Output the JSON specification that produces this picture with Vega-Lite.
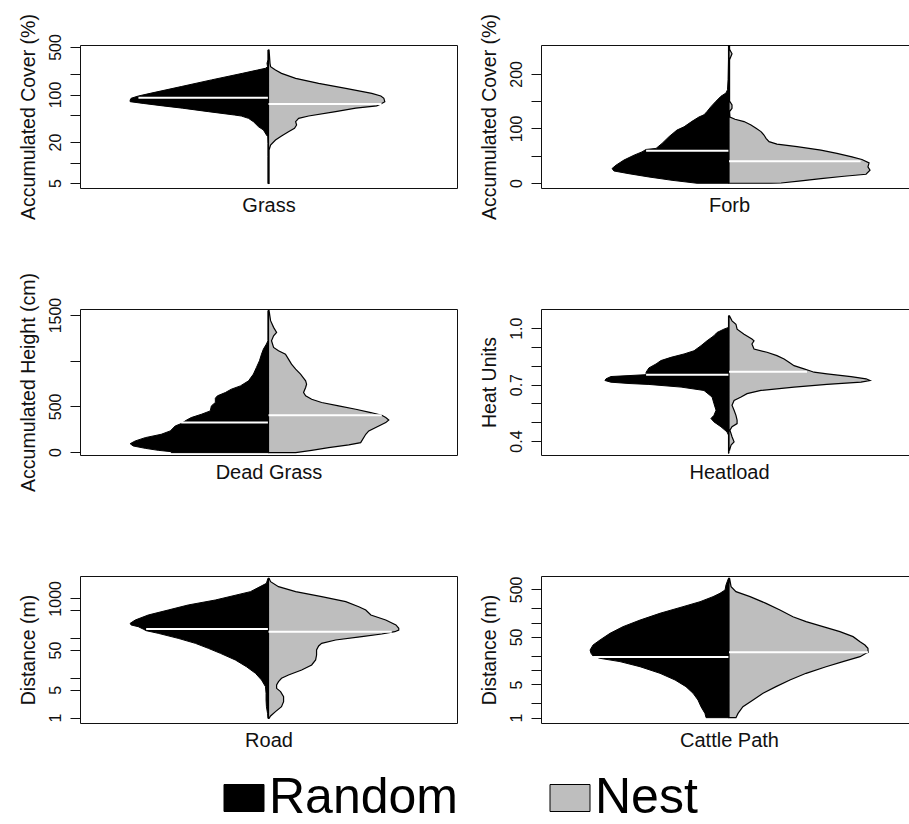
{
"$schema": "https://vega.github.io/schema/vega-lite/v6.json",
"padding": {"left": 17, "top": 13, "right": 0, "bottom": 0},
"background": "white",
"columns": 2,
"spacing": {"row": 121, "column": 84},
"bounds": "flush",
"datasets": {
"grass": [
{"group":"Random","value":452,"density":0.003},{"group":"Random","value":322,"density":0.003},{"group":"Random","value":288,"density":0.008},{"group":"Random","value":257,"density":0.005},{"group":"Random","value":243,"density":0.016},{"group":"Random","value":229,"density":0.059},{"group":"Random","value":205,"density":0.138},{"group":"Random","value":164,"density":0.303},{"group":"Random","value":131,"density":0.463},{"group":"Random","value":104,"density":0.628},{"group":"Random","value":95,"density":0.691},{"group":"Random","value":88,"density":0.729},{"group":"Random","value":83,"density":0.734},{"group":"Random","value":78.5,"density":0.734},{"group":"Random","value":74,"density":0.665},{"group":"Random","value":68,"density":0.559},{"group":"Random","value":63,"density":0.457},{"group":"Random","value":56,"density":0.319},{"group":"Random","value":50,"density":0.181},{"group":"Random","value":48.3,"density":0.144},{"group":"Random","value":44.6,"density":0.106},{"group":"Random","value":39.9,"density":0.08},{"group":"Random","value":33.6,"density":0.053},{"group":"Random","value":30.1,"density":0.027},{"group":"Random","value":25.4,"density":0.011},{"group":"Random","value":24,"density":0.004},{"group":"Random","value":19.1,"density":0.003},{"group":"Random","value":12.2,"density":0.003},{"group":"Random","value":4.9,"density":0.003},
{"group":"Nest","value":452,"density":0.003},{"group":"Nest","value":288,"density":0.008},{"group":"Nest","value":257,"density":0.011},{"group":"Nest","value":229,"density":0.037},{"group":"Nest","value":205,"density":0.069},{"group":"Nest","value":173,"density":0.144},{"group":"Nest","value":146,"density":0.266},{"group":"Nest","value":123,"density":0.41},{"group":"Nest","value":104,"density":0.548},{"group":"Nest","value":95,"density":0.596},{"group":"Nest","value":88,"density":0.612},{"group":"Nest","value":78.5,"density":0.617},{"group":"Nest","value":72.6,"density":0.596},{"group":"Nest","value":68,"density":0.574},{"group":"Nest","value":63,"density":0.463},{"group":"Nest","value":56,"density":0.356},{"group":"Nest","value":48.3,"density":0.213},{"group":"Nest","value":44.6,"density":0.16},{"group":"Nest","value":39.9,"density":0.144},{"group":"Nest","value":35.6,"density":0.149},{"group":"Nest","value":31.8,"density":0.138},{"group":"Nest","value":28.4,"density":0.106},{"group":"Nest","value":24.5,"density":0.069},{"group":"Nest","value":21.4,"density":0.037},{"group":"Nest","value":18.1,"density":0.011},{"group":"Nest","value":15.3,"density":0.003},{"group":"Nest","value":12.2,"density":0.003},{"group":"Nest","value":4.95,"density":0.003}
],
"forb": [
{"group":"Random","value":252,"density":0.003},{"group":"Random","value":226,"density":0.003},{"group":"Random","value":190,"density":0.005},{"group":"Random","value":171,"density":0.008},{"group":"Random","value":165,"density":0.016},{"group":"Random","value":159,"density":0.043},{"group":"Random","value":150,"density":0.069},{"group":"Random","value":140,"density":0.096},{"group":"Random","value":131,"density":0.117},{"group":"Random","value":125,"density":0.133},{"group":"Random","value":121,"density":0.16},{"group":"Random","value":113,"density":0.197},{"group":"Random","value":103,"density":0.239},{"group":"Random","value":97,"density":0.277},{"group":"Random","value":85,"density":0.319},{"group":"Random","value":72.6,"density":0.356},{"group":"Random","value":63.4,"density":0.388},{"group":"Random","value":61.5,"density":0.441},{"group":"Random","value":57,"density":0.463},{"group":"Random","value":51,"density":0.505},{"group":"Random","value":42,"density":0.559},{"group":"Random","value":32.6,"density":0.601},{"group":"Random","value":26.5,"density":0.622},{"group":"Random","value":22,"density":0.612},{"group":"Random","value":17,"density":0.532},{"group":"Random","value":11,"density":0.426},{"group":"Random","value":4.9,"density":0.303},{"group":"Random","value":-0.5,"density":0.17},
{"group":"Nest","value":252,"density":0.003},{"group":"Nest","value":245,"density":0.003},{"group":"Nest","value":237,"density":0.016},{"group":"Nest","value":226,"density":0.003},{"group":"Nest","value":150,"density":0.003},{"group":"Nest","value":143,"density":0.016},{"group":"Nest","value":137,"density":0.016},{"group":"Nest","value":131,"density":0.003},{"group":"Nest","value":121,"density":0.005},{"group":"Nest","value":116.9,"density":0.032},{"group":"Nest","value":112.6,"density":0.08},{"group":"Nest","value":106.5,"density":0.117},{"group":"Nest","value":100.3,"density":0.144},{"group":"Nest","value":94.2,"density":0.17},{"group":"Nest","value":88,"density":0.186},{"group":"Nest","value":81.8,"density":0.197},{"group":"Nest","value":75.7,"density":0.213},{"group":"Nest","value":71.4,"density":0.255},{"group":"Nest","value":66.5,"density":0.362},{"group":"Nest","value":60.3,"density":0.489},{"group":"Nest","value":54.2,"density":0.574},{"group":"Nest","value":48,"density":0.654},{"group":"Nest","value":43.1,"density":0.707},{"group":"Nest","value":36.9,"density":0.745},{"group":"Nest","value":29.5,"density":0.739},{"group":"Nest","value":23.4,"density":0.75},{"group":"Nest","value":16,"density":0.729},{"group":"Nest","value":12.3,"density":0.612},{"group":"Nest","value":8,"density":0.489},{"group":"Nest","value":3.7,"density":0.383},{"group":"Nest","value":0,"density":0.277},{"group":"Nest","value":-0.5,"density":0.223}
],
"dead": [
{"group":"Random","value":1548,"density":0.003},{"group":"Random","value":1218,"density":0.003},{"group":"Random","value":1182,"density":0.011},{"group":"Random","value":1127,"density":0.027},{"group":"Random","value":1072,"density":0.037},{"group":"Random","value":999,"density":0.048},{"group":"Random","value":926,"density":0.064},{"group":"Random","value":853,"density":0.08},{"group":"Random","value":779,"density":0.106},{"group":"Random","value":724,"density":0.149},{"group":"Random","value":688,"density":0.197},{"group":"Random","value":651,"density":0.229},{"group":"Random","value":615,"density":0.271},{"group":"Random","value":589,"density":0.282},{"group":"Random","value":542,"density":0.282},{"group":"Random","value":505,"density":0.303},{"group":"Random","value":450,"density":0.309},{"group":"Random","value":413,"density":0.356},{"group":"Random","value":377,"density":0.41},{"group":"Random","value":348,"density":0.436},{"group":"Random","value":311,"density":0.463},{"group":"Random","value":285,"density":0.495},{"group":"Random","value":231,"density":0.521},{"group":"Random","value":194,"density":0.569},{"group":"Random","value":157,"density":0.654},{"group":"Random","value":121,"density":0.707},{"group":"Random","value":91,"density":0.734},{"group":"Random","value":66,"density":0.718},{"group":"Random","value":40,"density":0.654},{"group":"Random","value":18,"density":0.585},{"group":"Random","value":3.7,"density":0.516},{"group":"Random","value":-7,"density":0.516},
{"group":"Nest","value":1548,"density":0.003},{"group":"Nest","value":1438,"density":0.011},{"group":"Nest","value":1365,"density":0.027},{"group":"Nest","value":1310,"density":0.043},{"group":"Nest","value":1273,"density":0.027},{"group":"Nest","value":1218,"density":0.016},{"group":"Nest","value":1145,"density":0.027},{"group":"Nest","value":1108,"density":0.053},{"group":"Nest","value":1072,"density":0.09},{"group":"Nest","value":1017,"density":0.106},{"group":"Nest","value":962,"density":0.122},{"group":"Nest","value":907,"density":0.144},{"group":"Nest","value":853,"density":0.17},{"group":"Nest","value":809,"density":0.186},{"group":"Nest","value":779,"density":0.197},{"group":"Nest","value":743,"density":0.202},{"group":"Nest","value":706,"density":0.197},{"group":"Nest","value":651,"density":0.186},{"group":"Nest","value":615,"density":0.197},{"group":"Nest","value":578,"density":0.229},{"group":"Nest","value":542,"density":0.282},{"group":"Nest","value":505,"density":0.372},{"group":"Nest","value":468,"density":0.463},{"group":"Nest","value":432,"density":0.543},{"group":"Nest","value":402,"density":0.601},{"group":"Nest","value":377,"density":0.622},{"group":"Nest","value":351,"density":0.638},{"group":"Nest","value":322,"density":0.622},{"group":"Nest","value":285,"density":0.585},{"group":"Nest","value":231,"density":0.532},{"group":"Nest","value":194,"density":0.516},{"group":"Nest","value":102,"density":0.489},{"group":"Nest","value":77,"density":0.426},{"group":"Nest","value":48,"density":0.319},{"group":"Nest","value":18,"density":0.229},{"group":"Nest","value":-7,"density":0.144}
],
"heat": [
{"group":"Random","value":1.065,"density":0.003},{"group":"Random","value":1.004,"density":0.003},{"group":"Random","value":0.995,"density":0.027},{"group":"Random","value":0.977,"density":0.064},{"group":"Random","value":0.96,"density":0.08},{"group":"Random","value":0.933,"density":0.117},{"group":"Random","value":0.907,"density":0.149},{"group":"Random","value":0.88,"density":0.186},{"group":"Random","value":0.863,"density":0.239},{"group":"Random","value":0.845,"density":0.309},{"group":"Random","value":0.828,"density":0.362},{"group":"Random","value":0.81,"density":0.388},{"group":"Random","value":0.789,"density":0.426},{"group":"Random","value":0.766,"density":0.441},{"group":"Random","value":0.753,"density":0.441},{"group":"Random","value":0.748,"density":0.532},{"group":"Random","value":0.743,"density":0.628},{"group":"Random","value":0.731,"density":0.654},{"group":"Random","value":0.722,"density":0.66},{"group":"Random","value":0.713,"density":0.628},{"group":"Random","value":0.706,"density":0.532},{"group":"Random","value":0.701,"density":0.426},{"group":"Random","value":0.687,"density":0.255},{"group":"Random","value":0.669,"density":0.133},{"group":"Random","value":0.634,"density":0.09},{"group":"Random","value":0.599,"density":0.08},{"group":"Random","value":0.564,"density":0.069},{"group":"Random","value":0.537,"density":0.08},{"group":"Random","value":0.52,"density":0.096},{"group":"Random","value":0.502,"density":0.08},{"group":"Random","value":0.476,"density":0.043},{"group":"Random","value":0.449,"density":0.011},{"group":"Random","value":0.432,"density":0.003},{"group":"Random","value":0.335,"density":0.003},
{"group":"Nest","value":1.065,"density":0.003},{"group":"Nest","value":1.039,"density":0.016},{"group":"Nest","value":1.021,"density":0.037},{"group":"Nest","value":0.995,"density":0.043},{"group":"Nest","value":0.968,"density":0.08},{"group":"Nest","value":0.942,"density":0.122},{"group":"Nest","value":0.933,"density":0.133},{"group":"Nest","value":0.916,"density":0.122},{"group":"Nest","value":0.889,"density":0.133},{"group":"Nest","value":0.872,"density":0.202},{"group":"Nest","value":0.854,"density":0.255},{"group":"Nest","value":0.836,"density":0.293},{"group":"Nest","value":0.819,"density":0.319},{"group":"Nest","value":0.801,"density":0.346},{"group":"Nest","value":0.784,"density":0.399},{"group":"Nest","value":0.775,"density":0.426},{"group":"Nest","value":0.766,"density":0.452},{"group":"Nest","value":0.757,"density":0.521},{"group":"Nest","value":0.743,"density":0.649},{"group":"Nest","value":0.731,"density":0.729},{"group":"Nest","value":0.722,"density":0.75},{"group":"Nest","value":0.713,"density":0.702},{"group":"Nest","value":0.701,"density":0.521},{"group":"Nest","value":0.687,"density":0.346},{"group":"Nest","value":0.669,"density":0.17},{"group":"Nest","value":0.652,"density":0.096},{"group":"Nest","value":0.634,"density":0.064},{"group":"Nest","value":0.616,"density":0.027},{"group":"Nest","value":0.59,"density":0.016},{"group":"Nest","value":0.564,"density":0.027},{"group":"Nest","value":0.537,"density":0.037},{"group":"Nest","value":0.511,"density":0.043},{"group":"Nest","value":0.493,"density":0.043},{"group":"Nest","value":0.476,"density":0.016},{"group":"Nest","value":0.458,"density":0.005},{"group":"Nest","value":0.423,"density":0.016},{"group":"Nest","value":0.396,"density":0.027},{"group":"Nest","value":0.379,"density":0.011},{"group":"Nest","value":0.352,"density":0.003}
],
"road": [
{"group":"Random","value":3184,"density":0.003},{"group":"Random","value":2384,"density":0.011},{"group":"Random","value":1472,"density":0.096},{"group":"Random","value":908,"density":0.282},{"group":"Random","value":681,"density":0.426},{"group":"Random","value":509,"density":0.532},{"group":"Random","value":381,"density":0.638},{"group":"Random","value":285,"density":0.707},{"group":"Random","value":235,"density":0.734},{"group":"Random","value":214,"density":0.729},{"group":"Random","value":194,"density":0.691},{"group":"Random","value":169,"density":0.665},{"group":"Random","value":154,"density":0.649},{"group":"Random","value":132,"density":0.585},{"group":"Random","value":98.6,"density":0.479},{"group":"Random","value":73.9,"density":0.388},{"group":"Random","value":55.3,"density":0.319},{"group":"Random","value":41.4,"density":0.255},{"group":"Random","value":28.2,"density":0.176},{"group":"Random","value":19.1,"density":0.117},{"group":"Random","value":13,"density":0.069},{"group":"Random","value":8.85,"density":0.037},{"group":"Random","value":6.02,"density":0.016},{"group":"Random","value":4.09,"density":0.013},{"group":"Random","value":2.78,"density":0.013},{"group":"Random","value":1.89,"density":0.011},{"group":"Random","value":1.28,"density":0.005},{"group":"Random","value":0.96,"density":0.003},
{"group":"Nest","value":3184,"density":0.003},{"group":"Nest","value":2626,"density":0.011},{"group":"Nest","value":1963,"density":0.053},{"group":"Nest","value":1472,"density":0.144},{"group":"Nest","value":1102,"density":0.282},{"group":"Nest","value":826,"density":0.41},{"group":"Nest","value":617,"density":0.479},{"group":"Nest","value":509,"density":0.516},{"group":"Nest","value":381,"density":0.543},{"group":"Nest","value":285,"density":0.622},{"group":"Nest","value":214,"density":0.676},{"group":"Nest","value":177,"density":0.691},{"group":"Nest","value":160,"density":0.691},{"group":"Nest","value":145,"density":0.67},{"group":"Nest","value":127,"density":0.601},{"group":"Nest","value":109,"density":0.495},{"group":"Nest","value":89.7,"density":0.356},{"group":"Nest","value":73.9,"density":0.282},{"group":"Nest","value":63.4,"density":0.266},{"group":"Nest","value":50.2,"density":0.255},{"group":"Nest","value":37.6,"density":0.255},{"group":"Nest","value":28.2,"density":0.25},{"group":"Nest","value":21.1,"density":0.229},{"group":"Nest","value":15.8,"density":0.176},{"group":"Nest","value":11.8,"density":0.106},{"group":"Nest","value":9.75,"density":0.069},{"group":"Nest","value":8.04,"density":0.053},{"group":"Nest","value":6.62,"density":0.043},{"group":"Nest","value":5.46,"density":0.043},{"group":"Nest","value":4.51,"density":0.064},{"group":"Nest","value":3.37,"density":0.08},{"group":"Nest","value":2.52,"density":0.08},{"group":"Nest","value":1.89,"density":0.069},{"group":"Nest","value":1.42,"density":0.037},{"group":"Nest","value":1.1,"density":0.011},{"group":"Nest","value":0.96,"density":0.003}
],
"cattle": [
{"group":"Random","value":853,"density":0.003},{"group":"Random","value":618,"density":0.016},{"group":"Random","value":485,"density":0.021},{"group":"Random","value":413,"density":0.048},{"group":"Random","value":351,"density":0.085},{"group":"Random","value":275,"density":0.154},{"group":"Random","value":216,"density":0.245},{"group":"Random","value":157,"density":0.367},{"group":"Random","value":113,"density":0.473},{"group":"Random","value":82.1,"density":0.564},{"group":"Random","value":59.4,"density":0.633},{"group":"Random","value":43.1,"density":0.686},{"group":"Random","value":33.8,"density":0.723},{"group":"Random","value":26.5,"density":0.739},{"group":"Random","value":22.6,"density":0.734},{"group":"Random","value":19.8,"density":0.723},{"group":"Random","value":17.7,"density":0.686},{"group":"Random","value":15.1,"density":0.58},{"group":"Random","value":11.8,"density":0.473},{"group":"Random","value":8.57,"density":0.367},{"group":"Random","value":6.2,"density":0.287},{"group":"Random","value":4.49,"density":0.229},{"group":"Random","value":3.25,"density":0.191},{"group":"Random","value":2.35,"density":0.165},{"group":"Random","value":1.7,"density":0.149},{"group":"Random","value":1.23,"density":0.128},{"group":"Random","value":1,"density":0.122},
{"group":"Nest","value":853,"density":0.003},{"group":"Nest","value":570,"density":0.011},{"group":"Nest","value":448,"density":0.037},{"group":"Nest","value":351,"density":0.112},{"group":"Nest","value":254,"density":0.197},{"group":"Nest","value":184,"density":0.271},{"group":"Nest","value":133,"density":0.34},{"group":"Nest","value":105,"density":0.41},{"group":"Nest","value":82.1,"density":0.5},{"group":"Nest","value":64.4,"density":0.59},{"group":"Nest","value":50.6,"density":0.66},{"group":"Nest","value":39.7,"density":0.697},{"group":"Nest","value":33.8,"density":0.723},{"group":"Nest","value":28.8,"density":0.739},{"group":"Nest","value":23.7,"density":0.74},{"group":"Nest","value":22.6,"density":0.729},{"group":"Nest","value":19.2,"density":0.697},{"group":"Nest","value":15.1,"density":0.606},{"group":"Nest","value":11.8,"density":0.516},{"group":"Nest","value":8.57,"density":0.41},{"group":"Nest","value":6.2,"density":0.324},{"group":"Nest","value":4.49,"density":0.25},{"group":"Nest","value":3.25,"density":0.181},{"group":"Nest","value":2.35,"density":0.128},{"group":"Nest","value":1.7,"density":0.074},{"group":"Nest","value":1.23,"density":0.048},{"group":"Nest","value":1,"density":0.037}
],
"medians": [
{"panel":"Grass","group":"Random","value":89.9,"density":0.69},{"panel":"Grass","group":"Nest","value":72.6,"density":0.6},
{"panel":"Forb","group":"Random","value":59,"density":0.441},{"panel":"Forb","group":"Nest","value":40,"density":0.7},
{"panel":"Dead Grass","group":"Random","value":322,"density":0.463},{"panel":"Dead Grass","group":"Nest","value":402,"density":0.601},
{"panel":"Heatload","group":"Random","value":0.752,"density":0.441},{"panel":"Heatload","group":"Nest","value":0.769,"density":0.415},
{"panel":"Road","group":"Random","value":169,"density":0.649},{"panel":"Road","group":"Nest","value":145,"density":0.654},
{"panel":"Cattle Path","group":"Random","value":18.9,"density":0.723},{"panel":"Cattle Path","group":"Nest","value":23.7,"density":0.739}
]
},
"concat": [
{
"width": 377, "height": 143,
"encoding": {"y": {"field": "value", "type": "quantitative", "scale": {"type": "log", "domain": [4.22, 535], "nice": false}, "axis": {"title": "Accumulated Cover (%)", "values": [5,10,20,50,100,200,500], "labelExpr": "indexof([5,20,100,500], datum.value) >= 0 ? format(datum.value, 'd') : ''", "titleY": 71.5}}},
"layer": [
{"data": {"name": "grass"}, "transform": [{"filter": "datum.group == 'Random'"}], "mark": {"type": "area", "orient": "horizontal", "stroke": "#000", "strokeWidth": 1, "opacity": 1}, "encoding": {"x": {"field": "density", "type": "quantitative", "scale": {"domain": [-1, 1], "reverse": true, "nice": false, "zero": false}, "axis": {"title": "Grass", "titleX": 188.5}}, "x2": {"datum": 0}, "color": {"field": "group", "type": "nominal", "title": null, "scale": {"domain": ["Random", "Nest"], "range": ["#000000", "#bebebe"]}, "legend": {"title": null, "orient": "none", "legendX": 139, "legendY": 728, "direction": "horizontal", "symbolType": "M-1,-0.675L1,-0.675L1,0.675L-1,0.675Z", "symbolSize": 1600, "symbolStrokeColor": "#000", "symbolStrokeWidth": 1, "symbolOpacity": 1, "labelFontSize": 50, "labelLimit": 400, "labelOffset": 0, "columnPadding": 87, "labelColor": "#000"}}}},
{"data": {"name": "medians"}, "transform": [{"filter": "datum.panel == 'Grass' && datum.group == 'Random'"}], "mark": {"type": "rule", "color": "white", "strokeWidth": 2}, "encoding": {"x": {"field": "density", "type": "quantitative", "scale": {"domain": [-1, 1], "reverse": true, "nice": false, "zero": false}, "axis": null}, "x2": {"datum": 0}}},
{"data": {"name": "grass"}, "transform": [{"filter": "datum.group == 'Nest'"}], "mark": {"type": "area", "orient": "horizontal", "stroke": "#000", "strokeWidth": 1.2, "opacity": 1}, "encoding": {"x": {"field": "density", "type": "quantitative", "scale": {"domain": [-1, 1], "nice": false, "zero": false}, "axis": null}, "x2": {"datum": 0}, "color": {"field": "group", "type": "nominal", "title": null, "scale": {"domain": ["Random", "Nest"], "range": ["#000000", "#bebebe"]}}}},
{"data": {"name": "medians"}, "transform": [{"filter": "datum.panel == 'Grass' && datum.group == 'Nest'"}], "mark": {"type": "rule", "color": "white", "strokeWidth": 2}, "encoding": {"x": {"field": "density", "type": "quantitative", "scale": {"domain": [-1, 1], "nice": false, "zero": false}, "axis": null}, "x2": {"datum": 0}}}
],
"resolve": {"scale": {"x": "independent"}}
},
{
"width": 368, "height": 143,
"encoding": {"y": {"field": "value", "type": "quantitative", "scale": {"domain": [-9.2, 253], "nice": false, "zero": false}, "axis": {"title": "Accumulated Cover (%)", "values": [0,50,100,150,200], "labelExpr": "indexof([0,100,200], datum.value) >= 0 ? format(datum.value, 'd') : ''", "titleY": 71.5}}},
"layer": [
{"data": {"name": "forb"}, "transform": [{"filter": "datum.group == 'Random'"}], "mark": {"type": "area", "orient": "horizontal", "stroke": "#000", "strokeWidth": 1, "opacity": 1}, "encoding": {"x": {"field": "density", "type": "quantitative", "scale": {"domain": [-0.9574, 1], "reverse": true, "nice": false, "zero": false}, "axis": {"title": "Forb", "titleX": 188}}, "x2": {"datum": 0}, "color": {"field": "group", "type": "nominal", "title": null, "scale": {"domain": ["Random", "Nest"], "range": ["#000000", "#bebebe"]}}}},
{"data": {"name": "medians"}, "transform": [{"filter": "datum.panel == 'Forb' && datum.group == 'Random'"}], "mark": {"type": "rule", "color": "white", "strokeWidth": 2}, "encoding": {"x": {"field": "density", "type": "quantitative", "scale": {"domain": [-0.9574, 1], "reverse": true, "nice": false, "zero": false}, "axis": null}, "x2": {"datum": 0}}},
{"data": {"name": "forb"}, "transform": [{"filter": "datum.group == 'Nest'"}], "mark": {"type": "area", "orient": "horizontal", "stroke": "#000", "strokeWidth": 1.2, "opacity": 1}, "encoding": {"x": {"field": "density", "type": "quantitative", "scale": {"domain": [-1, 0.9574], "nice": false, "zero": false}, "axis": null}, "x2": {"datum": 0}, "color": {"field": "group", "type": "nominal", "title": null, "scale": {"domain": ["Random", "Nest"], "range": ["#000000", "#bebebe"]}}}},
{"data": {"name": "medians"}, "transform": [{"filter": "datum.panel == 'Forb' && datum.group == 'Nest'"}], "mark": {"type": "rule", "color": "white", "strokeWidth": 2}, "encoding": {"x": {"field": "density", "type": "quantitative", "scale": {"domain": [-1, 0.9574], "nice": false, "zero": false}, "axis": null}, "x2": {"datum": 0}}}
],
"resolve": {"scale": {"x": "independent"}}
},
{
"width": 377, "height": 146,
"encoding": {"y": {"field": "value", "type": "quantitative", "scale": {"domain": [-33, 1566], "nice": false, "zero": false}, "axis": {"title": "Accumulated Height (cm)", "values": [0,500,1000,1500], "labelExpr": "indexof([0,500,1500], datum.value) >= 0 ? format(datum.value, 'd') : ''", "titleY": 73}}},
"layer": [
{"data": {"name": "dead"}, "transform": [{"filter": "datum.group == 'Random'"}], "mark": {"type": "area", "orient": "horizontal", "stroke": "#000", "strokeWidth": 1, "opacity": 1}, "encoding": {"x": {"field": "density", "type": "quantitative", "scale": {"domain": [-1, 1], "reverse": true, "nice": false, "zero": false}, "axis": {"title": "Dead Grass", "titleX": 188.5}}, "x2": {"datum": 0}, "color": {"field": "group", "type": "nominal", "title": null, "scale": {"domain": ["Random", "Nest"], "range": ["#000000", "#bebebe"]}}}},
{"data": {"name": "medians"}, "transform": [{"filter": "datum.panel == 'Dead Grass' && datum.group == 'Random'"}], "mark": {"type": "rule", "color": "white", "strokeWidth": 2}, "encoding": {"x": {"field": "density", "type": "quantitative", "scale": {"domain": [-1, 1], "reverse": true, "nice": false, "zero": false}, "axis": null}, "x2": {"datum": 0}}},
{"data": {"name": "dead"}, "transform": [{"filter": "datum.group == 'Nest'"}], "mark": {"type": "area", "orient": "horizontal", "stroke": "#000", "strokeWidth": 1.2, "opacity": 1}, "encoding": {"x": {"field": "density", "type": "quantitative", "scale": {"domain": [-1, 1], "nice": false, "zero": false}, "axis": null}, "x2": {"datum": 0}, "color": {"field": "group", "type": "nominal", "title": null, "scale": {"domain": ["Random", "Nest"], "range": ["#000000", "#bebebe"]}}}},
{"data": {"name": "medians"}, "transform": [{"filter": "datum.panel == 'Dead Grass' && datum.group == 'Nest'"}], "mark": {"type": "rule", "color": "white", "strokeWidth": 2}, "encoding": {"x": {"field": "density", "type": "quantitative", "scale": {"domain": [-1, 1], "nice": false, "zero": false}, "axis": null}, "x2": {"datum": 0}}}
],
"resolve": {"scale": {"x": "independent"}}
},
{
"width": 368, "height": 146,
"encoding": {"y": {"field": "value", "type": "quantitative", "scale": {"domain": [0.326, 1.102], "nice": false, "zero": false}, "axis": {"title": "Heat Units", "values": [0.4,0.5,0.6,0.7,0.8,0.9,1], "labelExpr": "indexof([0.4,0.7,1], datum.value) >= 0 ? format(datum.value, '.1f') : ''", "titleY": 73}}},
"layer": [
{"data": {"name": "heat"}, "transform": [{"filter": "datum.group == 'Random'"}], "mark": {"type": "area", "orient": "horizontal", "stroke": "#000", "strokeWidth": 1, "opacity": 1}, "encoding": {"x": {"field": "density", "type": "quantitative", "scale": {"domain": [-0.9574, 1], "reverse": true, "nice": false, "zero": false}, "axis": {"title": "Heatload", "titleX": 188}}, "x2": {"datum": 0}, "color": {"field": "group", "type": "nominal", "title": null, "scale": {"domain": ["Random", "Nest"], "range": ["#000000", "#bebebe"]}}}},
{"data": {"name": "medians"}, "transform": [{"filter": "datum.panel == 'Heatload' && datum.group == 'Random'"}], "mark": {"type": "rule", "color": "white", "strokeWidth": 2}, "encoding": {"x": {"field": "density", "type": "quantitative", "scale": {"domain": [-0.9574, 1], "reverse": true, "nice": false, "zero": false}, "axis": null}, "x2": {"datum": 0}}},
{"data": {"name": "heat"}, "transform": [{"filter": "datum.group == 'Nest'"}], "mark": {"type": "area", "orient": "horizontal", "stroke": "#000", "strokeWidth": 1.2, "opacity": 1}, "encoding": {"x": {"field": "density", "type": "quantitative", "scale": {"domain": [-1, 0.9574], "nice": false, "zero": false}, "axis": null}, "x2": {"datum": 0}, "color": {"field": "group", "type": "nominal", "title": null, "scale": {"domain": ["Random", "Nest"], "range": ["#000000", "#bebebe"]}}}},
{"data": {"name": "medians"}, "transform": [{"filter": "datum.panel == 'Heatload' && datum.group == 'Nest'"}], "mark": {"type": "rule", "color": "white", "strokeWidth": 2}, "encoding": {"x": {"field": "density", "type": "quantitative", "scale": {"domain": [-1, 0.9574], "nice": false, "zero": false}, "axis": null}, "x2": {"datum": 0}}}
],
"resolve": {"scale": {"x": "independent"}}
},
{
"width": 377, "height": 147,
"encoding": {"y": {"field": "value", "type": "quantitative", "scale": {"type": "log", "domain": [0.734, 3646], "nice": false}, "axis": {"title": "Distance (m)", "values": [1,5,10,50,100,500,1000], "labelExpr": "indexof([1,5,50,1000], datum.value) >= 0 ? format(datum.value, 'd') : ''", "titleY": 73.5}}},
"layer": [
{"data": {"name": "road"}, "transform": [{"filter": "datum.group == 'Random'"}], "mark": {"type": "area", "orient": "horizontal", "stroke": "#000", "strokeWidth": 1, "opacity": 1}, "encoding": {"x": {"field": "density", "type": "quantitative", "scale": {"domain": [-1, 1], "reverse": true, "nice": false, "zero": false}, "axis": {"title": "Road", "titleX": 188.5}}, "x2": {"datum": 0}, "color": {"field": "group", "type": "nominal", "title": null, "scale": {"domain": ["Random", "Nest"], "range": ["#000000", "#bebebe"]}}}},
{"data": {"name": "medians"}, "transform": [{"filter": "datum.panel == 'Road' && datum.group == 'Random'"}], "mark": {"type": "rule", "color": "white", "strokeWidth": 2}, "encoding": {"x": {"field": "density", "type": "quantitative", "scale": {"domain": [-1, 1], "reverse": true, "nice": false, "zero": false}, "axis": null}, "x2": {"datum": 0}}},
{"data": {"name": "road"}, "transform": [{"filter": "datum.group == 'Nest'"}], "mark": {"type": "area", "orient": "horizontal", "stroke": "#000", "strokeWidth": 1.2, "opacity": 1}, "encoding": {"x": {"field": "density", "type": "quantitative", "scale": {"domain": [-1, 1], "nice": false, "zero": false}, "axis": null}, "x2": {"datum": 0}, "color": {"field": "group", "type": "nominal", "title": null, "scale": {"domain": ["Random", "Nest"], "range": ["#000000", "#bebebe"]}}}},
{"data": {"name": "medians"}, "transform": [{"filter": "datum.panel == 'Road' && datum.group == 'Nest'"}], "mark": {"type": "rule", "color": "white", "strokeWidth": 2}, "encoding": {"x": {"field": "density", "type": "quantitative", "scale": {"domain": [-1, 1], "nice": false, "zero": false}, "axis": null}, "x2": {"datum": 0}}}
],
"resolve": {"scale": {"x": "independent"}}
},
{
"width": 368, "height": 147,
"encoding": {"y": {"field": "value", "type": "quantitative", "scale": {"type": "log", "domain": [0.772, 955], "nice": false}, "axis": {"title": "Distance (m)", "values": [1,2,5,10,20,50,100,200,500], "labelExpr": "indexof([1,5,50,500], datum.value) >= 0 ? format(datum.value, 'd') : ''", "titleY": 73.5}}},
"layer": [
{"data": {"name": "cattle"}, "transform": [{"filter": "datum.group == 'Random'"}], "mark": {"type": "area", "orient": "horizontal", "stroke": "#000", "strokeWidth": 1, "opacity": 1}, "encoding": {"x": {"field": "density", "type": "quantitative", "scale": {"domain": [-0.9574, 1], "reverse": true, "nice": false, "zero": false}, "axis": {"title": "Cattle Path", "titleX": 188}}, "x2": {"datum": 0}, "color": {"field": "group", "type": "nominal", "title": null, "scale": {"domain": ["Random", "Nest"], "range": ["#000000", "#bebebe"]}}}},
{"data": {"name": "medians"}, "transform": [{"filter": "datum.panel == 'Cattle Path' && datum.group == 'Random'"}], "mark": {"type": "rule", "color": "white", "strokeWidth": 2}, "encoding": {"x": {"field": "density", "type": "quantitative", "scale": {"domain": [-0.9574, 1], "reverse": true, "nice": false, "zero": false}, "axis": null}, "x2": {"datum": 0}}},
{"data": {"name": "cattle"}, "transform": [{"filter": "datum.group == 'Nest'"}], "mark": {"type": "area", "orient": "horizontal", "stroke": "#000", "strokeWidth": 1.2, "opacity": 1}, "encoding": {"x": {"field": "density", "type": "quantitative", "scale": {"domain": [-1, 0.9574], "nice": false, "zero": false}, "axis": null}, "x2": {"datum": 0}, "color": {"field": "group", "type": "nominal", "title": null, "scale": {"domain": ["Random", "Nest"], "range": ["#000000", "#bebebe"]}}}},
{"data": {"name": "medians"}, "transform": [{"filter": "datum.panel == 'Cattle Path' && datum.group == 'Nest'"}], "mark": {"type": "rule", "color": "white", "strokeWidth": 2}, "encoding": {"x": {"field": "density", "type": "quantitative", "scale": {"domain": [-1, 0.9574], "nice": false, "zero": false}, "axis": null}, "x2": {"datum": 0}}}
],
"resolve": {"scale": {"x": "independent"}}
}
],
"config": {
"font": "Liberation Sans",
"view": {"stroke": "#111", "strokeWidth": 1},
"axis": {"grid": false, "domain": false, "tickColor": "#111", "tickWidth": 1, "labelFontSize": 16, "labelColor": "#111", "labelOverlap": false, "labelFlush": false, "titleFontWeight": "normal", "titleColor": "#111"},
"axisY": {"ticks": true, "tickSize": 10, "labelAngle": 270, "labelAlign": "center", "labelBaseline": "alphabetic", "labelPadding": 10, "titleFontSize": 19.5, "titleX": -46, "titleBaseline": "alphabetic", "titleAngle": 270, "titleAlign": "center"},
"axisX": {"ticks": false, "labels": false, "titleFontSize": 20, "titleY": 23, "titleBaseline": "alphabetic", "titleAngle": 0, "titleAlign": "center", "titlePadding": 0}
}
}
